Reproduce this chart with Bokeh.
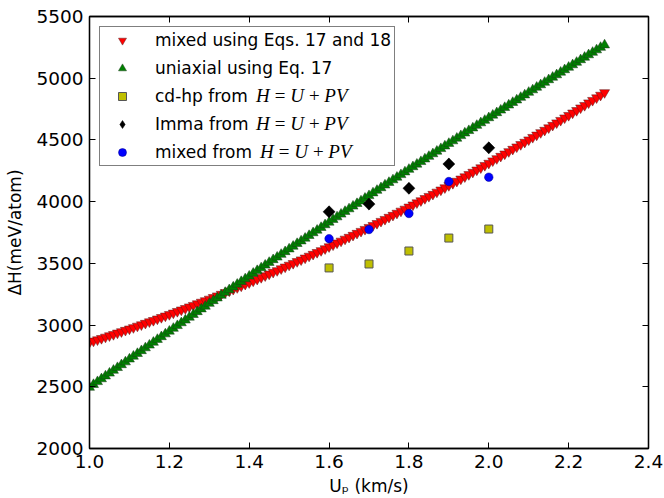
import numpy as np
from bokeh.plotting import figure
from bokeh.models import (Range1d, LinearAxis, FixedTicker, PrintfTickFormatter,
                          Legend, LegendItem)
from bokeh.embed import file_html
from bokeh.resources import INLINE

# ---------------- data ----------------
up_curve = [round(1.0 + 0.01 * i, 2) for i in range(130)]

mixed_eq = [
    2860, 2871, 2881, 2892, 2903, 2914, 2924, 2936, 2947, 2958,
    2969, 2980, 2992, 3003, 3015, 3027, 3038, 3050, 3062, 3074,
    3086, 3098, 3111, 3123, 3135, 3148, 3160, 3173, 3186, 3198,
    3211, 3224, 3237, 3250, 3264, 3277, 3290, 3304, 3317, 3331,
    3344, 3358, 3372, 3386, 3400, 3414, 3428, 3442, 3457, 3471,
    3486, 3500, 3515, 3529, 3544, 3559, 3574, 3589, 3604, 3619,
    3635, 3650, 3666, 3681, 3697, 3712, 3728, 3744, 3760, 3776,
    3792, 3808, 3824, 3841, 3857, 3874, 3890, 3907, 3924, 3940,
    3957, 3974, 3991, 4008, 4026, 4043, 4060, 4078, 4095, 4113,
    4131, 4148, 4166, 4184, 4202, 4220, 4239, 4257, 4275, 4294,
    4312, 4331, 4349, 4368, 4387, 4406, 4425, 4444, 4463, 4482,
    4501, 4521, 4540, 4560, 4579, 4599, 4619, 4639, 4659, 4679,
    4699, 4719, 4739, 4760, 4780, 4801, 4821, 4842, 4863, 4884,
]

uniaxial_eq = [
    2495, 2518, 2541, 2564, 2587, 2610, 2633, 2655, 2678, 2701,
    2724, 2747, 2769, 2792, 2815, 2837, 2860, 2883, 2905, 2928,
    2950, 2973, 2995, 3018, 3040, 3063, 3085, 3108, 3130, 3152,
    3175, 3197, 3219, 3241, 3264, 3286, 3308, 3330, 3352, 3374,
    3396, 3419, 3441, 3463, 3485, 3507, 3529, 3550, 3572, 3594,
    3616, 3638, 3660, 3681, 3703, 3725, 3747, 3768, 3790, 3812,
    3833, 3855, 3876, 3898, 3920, 3941, 3963, 3984, 4005, 4027,
    4048, 4070, 4091, 4112, 4134, 4155, 4176, 4197, 4218, 4240,
    4261, 4282, 4303, 4324, 4345, 4366, 4387, 4408, 4429, 4450,
    4471, 4492, 4513, 4534, 4555, 4575, 4596, 4617, 4638, 4658,
    4679, 4700, 4720, 4741, 4762, 4782, 4803, 4823, 4844, 4864,
    4885, 4905, 4926, 4946, 4966, 4987, 5007, 5027, 5048, 5068,
    5088, 5108, 5128, 5149, 5169, 5189, 5209, 5229, 5249, 5269,
]

up_points = [1.6, 1.7, 1.8, 1.9, 2.0]
cdhp_h = [3463, 3495, 3600, 3705, 3778]
imma_h = [3918, 3980, 4108, 4305, 4436]
mixed_h = [3700, 3774, 3904, 4163, 4198]

x_ticks = [1.0, 1.2, 1.4, 1.6, 1.8, 2.0, 2.2, 2.4]
y_ticks = [2000, 2500, 3000, 3500, 4000, 4500, 5000, 5500]

legend_labels = ["mixed using Eqs. 17 and 18", "uniaxial using Eq. 17",
                 "cd-hp from", "Imma from", "mixed from"]
math_label = "H\u2009=\u2009U\u2009+\u2009PV"
x_title = "Uₚ (km/s)"
y_title = "ΔH(meV/atom)"

# ---------------- figure ----------------
SANS = "DejaVu Sans"
SERIF = "Liberation Serif"

p = figure(width=664, height=498,
           x_range=Range1d(1.0, 2.4), y_range=Range1d(2000, 5500),
           output_backend="svg", toolbar_location=None,
           min_border_left=89, min_border_right=16,
           min_border_top=16, min_border_bottom=49)
p.xgrid.visible = False
p.ygrid.visible = False
p.outline_line_color = "black"
p.outline_line_width = 1.3
p.background_fill_color = "white"
p.border_fill_color = "white"


def style_axis(ax, ticks, fmt, show_labels=True):
    ax.ticker = FixedTicker(ticks=ticks)
    ax.formatter = PrintfTickFormatter(format=fmt)
    ax.major_tick_in = 6
    ax.major_tick_out = 0
    ax.minor_tick_line_color = None
    ax.major_tick_line_color = "black"
    ax.major_tick_line_width = 1
    ax.axis_line_color = "black"
    ax.axis_line_width = 1.3
    ax.major_label_standoff = 6
    ax.major_label_text_font = SANS
    ax.major_label_text_font_size = "18.5px"
    ax.major_label_text_color = "black"
    if not show_labels:
        # tick marks only (mirrored matplotlib-style frame ticks)
        ax.major_label_text_color = None
        ax.major_label_text_font_size = "1px"
        ax.major_label_standoff = 0


style_axis(p.xaxis[0], x_ticks, "%.1f")
style_axis(p.yaxis[0], y_ticks, "%d")

p.xaxis[0].axis_label = x_title
p.xaxis[0].axis_label_text_font = SANS
p.xaxis[0].axis_label_text_font_size = "17px"
p.xaxis[0].axis_label_text_font_style = "normal"
p.xaxis[0].axis_label_standoff = 5
p.xaxis[0].axis_label_text_color = "black"

p.yaxis[0].axis_label = y_title
p.yaxis[0].axis_label_text_font = SANS
p.yaxis[0].axis_label_text_font_size = "17px"
p.yaxis[0].axis_label_text_font_style = "normal"
p.yaxis[0].axis_label_standoff = 8
p.yaxis[0].axis_label_text_color = "black"

top_ax = LinearAxis()
right_ax = LinearAxis()
style_axis(top_ax, x_ticks, "%.1f", show_labels=False)
style_axis(right_ax, y_ticks, "%d", show_labels=False)
p.add_layout(top_ax, "above")
p.add_layout(right_ax, "right")

# ---------------- glyphs ----------------
r_mixed_eq = p.scatter(up_curve, mixed_eq, marker="inverted_triangle", size=10,
                       fill_color="#ff0000", line_color="#5a1a1a", line_width=0.5)
r_uni_eq = p.scatter(up_curve, uniaxial_eq, marker="triangle", size=10,
                     fill_color="#008000", line_color="#1a3a1a", line_width=0.5)
r_cdhp = p.scatter(up_points, cdhp_h, marker="square", size=8,
                   fill_color="#bfbf00", line_color="#555555", line_width=1)
# diamond used for the legend swatch (covered in the plot by the rotated squares)
r_imma_key = p.scatter(up_points, imma_h, marker="diamond", size=11,
                       fill_color="black", line_color="black", line_width=0.5)
r_imma = p.scatter(up_points, imma_h, marker="square", angle=np.pi / 4, size=8.5,
                   fill_color="black", line_color="black", line_width=0.5)
r_mixed = p.scatter(up_points, mixed_h, marker="circle", size=8.5,
                    fill_color="#0000ff", line_color="#00008b", line_width=0.5)

# ---------------- legend ----------------
renderers = [r_mixed_eq, r_uni_eq, r_cdhp, r_imma_key, r_mixed]
legend = Legend(items=[LegendItem(label=l, renderers=[r])
                       for l, r in zip(legend_labels, renderers)],
                location="top_left", margin=10, padding=3, spacing=8,
                label_height=20, glyph_height=20, glyph_width=38,
                label_standoff=14, label_text_font=SANS,
                label_text_font_size="17px", label_text_color="black",
                border_line_color="black", border_line_width=1,
                background_fill_color="white", background_fill_alpha=1)
p.add_layout(legend)

# italic serif "H = U + PV" continuation of legend rows 3-5:
# one borderless, swatch-less legend per row; margin sets the top offset and an
# empty swatch area sets the horizontal offset of its text.
for r, top, left in [(r_cdhp, 69, 167), (r_imma, 97, 167), (r_mixed, 125, 171)]:
    math_leg = Legend(items=[LegendItem(label=math_label, renderers=[r])],
                      location="top_left", margin=top, padding=0, spacing=0,
                      label_height=20, glyph_height=0, glyph_width=left - top,
                      label_standoff=0, label_text_font=SERIF,
                      label_text_font_style="italic",
                      label_text_font_size="19px", label_text_color="black",
                      border_line_color=None, background_fill_alpha=0)
    p.add_layout(math_leg)

open("out.html", "w").write(file_html(p, INLINE))
